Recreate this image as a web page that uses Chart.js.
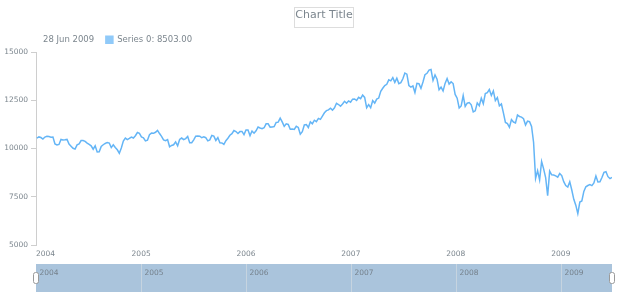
<!DOCTYPE html>
<html>
<head>
<meta charset="utf-8">
<script src="https://cdn.jsdelivr.net/npm/chart.js@4"></script>
<style>
  html, body { margin: 0; padding: 0; background: #fff; }
</style>
</head>
<body>
<canvas id="chart" width="620" height="300"></canvas>
<script>
/* =======================
   Data (weekly, first week 4 Jan 2004)
======================= */
const chartTitle = "Chart Title";
const seriesName = "Series 0";
const firstWeek = "2004-01-04";

const dow2004 = [10540, 10600, 10568, 10488, 10593, 10628, 10620, 10584, 10596, 10240, 10186, 10212, 10470, 10443, 10452, 10472, 10226, 10117, 10012, 9967, 10188, 10243, 10410, 10416, 10372, 10283, 10214, 10140, 9962, 10140, 9815, 9825, 10110, 10195, 10260, 10314, 10284, 10047, 10192, 10055, 9933, 9758, 10027, 10387, 10540, 10456, 10522, 10592, 10543, 10661, 10827, 10783];
const dow2005 = [10603, 10558, 10393, 10427, 10716, 10796, 10785, 10841, 10941, 10774, 10630, 10442, 10404, 10461, 10088, 10157, 10193, 10345, 10140, 10471, 10542, 10460, 10512, 10623, 10297, 10303, 10449, 10640, 10651, 10641, 10558, 10600, 10559, 10397, 10447, 10679, 10641, 10420, 10569, 10292, 10288, 10215, 10402, 10530, 10686, 10766, 10931, 10877, 10778, 10876, 10883, 10718];
const dow2006 = [10959, 10960, 10667, 10907, 10793, 10919, 11115, 11062, 11022, 11076, 11280, 11280, 11109, 11120, 11137, 11347, 11367, 11577, 11380, 11144, 11278, 11247, 11000, 11015, 10990, 11150, 11091, 10739, 10868, 11219, 11240, 11088, 11381, 11284, 11464, 11393, 11560, 11508, 11679, 11851, 11961, 12002, 12090, 11987, 12108, 12343, 12280, 12194, 12307, 12445, 12343, 12463, 12398];
const dow2007 = [12556, 12566, 12487, 12653, 12580, 12768, 12647, 12114, 12276, 12110, 12481, 12354, 12560, 12612, 12961, 13121, 13265, 13327, 13556, 13507, 13668, 13424, 13639, 13361, 13409, 13612, 13908, 13851, 13265, 13182, 13240, 12900, 13379, 13358, 13114, 13443, 13821, 13896, 14066, 14093, 13522, 13807, 13595, 13043, 13177, 12981, 13372, 13625, 13340, 13451, 13366, 12800];
const dow2008 = [12606, 12099, 12207, 12743, 12183, 12348, 12381, 12266, 11894, 11951, 12361, 12216, 12609, 12325, 12849, 12891, 13058, 12745, 12986, 12479, 12638, 12209, 12307, 11843, 11347, 11288, 11100, 11496, 11370, 11326, 11734, 11659, 11628, 11543, 11220, 11421, 11388, 11143, 10325, 8451, 8852, 8378, 9325, 8943, 8497, 7550, 8829, 8635, 8629, 8579, 8515, 8700];
const dow2009 = [8599, 8281, 8077, 8001, 8280, 7850, 7366, 7063, 6627, 7224, 7279, 7776, 8018, 8083, 8131, 8076, 8212, 8575, 8268, 8277, 8500, 8764, 8799, 8540, 8438, 8503];

const yearLabels = ["2004", "2005", "2006", "2007", "2008", "2009"];
const yTickValues = [5000, 7500, 10000, 12500, 15000];

/* =======================
   Styling
======================= */
const FONT = '"DejaVu Sans", Verdana, sans-serif';
const TEXT = "#7c868e";
const LINE = "#64b5f6";
const AXIS = "#cecece";
const MONTHS = ["Jan", "Feb", "Mar", "Apr", "May", "Jun", "Jul", "Aug", "Sep", "Oct", "Nov", "Dec"];
const DAY = 86400000;

// x = day number, one point per week
const startDay = Date.parse(firstWeek) / DAY;
const values = [].concat(dow2004, dow2005, dow2006, dow2007, dow2008, dow2009);
const points = values.map((v, i) => ({ x: startDay + i * 7, y: v }));
const yearDay = label => Date.UTC(Number(label), 0, 1) / DAY;
const xMin = yearDay(yearLabels[0]);
const xMax = points[points.length - 1].x;

function fmtDate(day) {
  const d = new Date(day * DAY);
  return d.getUTCDate() + " " + MONTHS[d.getUTCMonth()] + " " + d.getUTCFullYear();
}

/* =======================
   Title + legend line
======================= */
const headerPlugin = {
  id: "header",
  afterDraw(chart) {
    const c = chart.ctx;
    const a = chart.chartArea;
    const last = points[points.length - 1];
    c.save();
    // title in a thin box
    c.font = "11px " + FONT;
    c.fillStyle = TEXT;
    c.textAlign = "center";
    c.textBaseline = "alphabetic";
    const cx = (a.left + a.right) / 2;
    const tw = c.measureText(chartTitle).width;
    c.fillText(chartTitle, cx, 18);
    c.strokeStyle = "#dddddd";
    c.lineWidth = 1;
    c.strokeRect(Math.round(cx - tw / 2 - 1) + 0.5, 7.5, Math.round(tw + 2), 20);

    // legend: date, swatch, series value
    c.font = "8.5px " + FONT;
    c.textAlign = "left";
    c.textBaseline = "middle";
    const dateText = fmtDate(last.x);
    c.fillText(dateText, 43, 40);
    const sx = 43 + c.measureText(dateText).width + 11;
    c.fillStyle = "#90caf9";
    c.fillRect(sx, 35.5, 8.5, 8.5);
    c.fillStyle = TEXT;
    c.fillText(seriesName + ": " + last.y.toFixed(2), sx + 12, 40);
    c.restore();
  }
};

/* =======================
   Scroller band under the axis
======================= */
const navigatorPlugin = {
  id: "navigator",
  afterDraw(chart) {
    const c = chart.ctx;
    const a = chart.chartArea;
    const x = chart.scales.x;
    const top = 264, h = 28;
    c.save();
    c.fillStyle = "#aac4dc";
    c.fillRect(a.left, top, a.right - a.left, h);
    c.strokeStyle = "#c6d4e0";
    c.lineWidth = 1;
    c.font = "7.5px " + FONT;
    c.textAlign = "left";
    c.textBaseline = "middle";
    yearLabels.forEach((label, i) => {
      const px = Math.round(x.getPixelForValue(yearDay(label))) + 0.5;
      if (i > 0) {
        c.beginPath();
        c.moveTo(px, top);
        c.lineTo(px, top + h);
        c.stroke();
      }
      c.fillStyle = "#75818c";
      c.fillText(label, px + 3, top + 9);
    });
    // drag handles
    [a.left, a.right].forEach(hx => {
      c.beginPath();
      c.roundRect(hx - 2.5, 272.5, 5, 11, 2);
      c.fillStyle = "#ffffff";
      c.fill();
      c.strokeStyle = "#9a9a9a";
      c.stroke();
    });
    c.restore();
  }
};

/* =======================
   Chart
======================= */
const ctx = document.getElementById("chart").getContext("2d");
const chart = new Chart(ctx, {
  type: "line",
  data: {
    datasets: [{
      label: seriesName,
      data: points,
      borderColor: LINE,
      borderWidth: 1.5,
      pointRadius: 0,
      tension: 0,
      fill: false
    }]
  },
  options: {
    responsive: false,
    animation: false,
    layout: { padding: { top: 52, right: 8, left: 0, bottom: 0 } },
    plugins: {
      legend: { display: false },
      title: { display: false },
      tooltip: { enabled: false }
    },
    scales: {
      x: {
        type: "linear",
        min: xMin,
        max: xMax,
        afterBuildTicks: s => {
          s.ticks = yearLabels.map(l => ({ value: yearDay(l) })).concat([{ value: xMax }]);
        },
        afterFit: s => { s.height = 55; },
        grid: { display: false, drawTicks: false },
        border: { display: false },
        ticks: {
          align: "inner",
          autoSkip: false,
          maxRotation: 0,
          padding: 5,
          color: TEXT,
          font: { family: FONT, size: 7.5 },
          callback: (v, i) => yearLabels[i] || ""
        }
      },
      y: {
        min: 5000,
        max: 15000,
        afterBuildTicks: s => { s.ticks = yTickValues.map(v => ({ value: v })); },
        afterFit: s => { s.width = 36; },
        grid: { drawOnChartArea: false, drawTicks: true, tickLength: 5, color: AXIS },
        border: { display: true, color: AXIS },
        ticks: {
          padding: 3,
          color: TEXT,
          font: { family: FONT, size: 7.5 },
          callback: v => String(v)
        }
      }
    }
  },
  plugins: [headerPlugin, navigatorPlugin]
});
</script>
</body>
</html>
